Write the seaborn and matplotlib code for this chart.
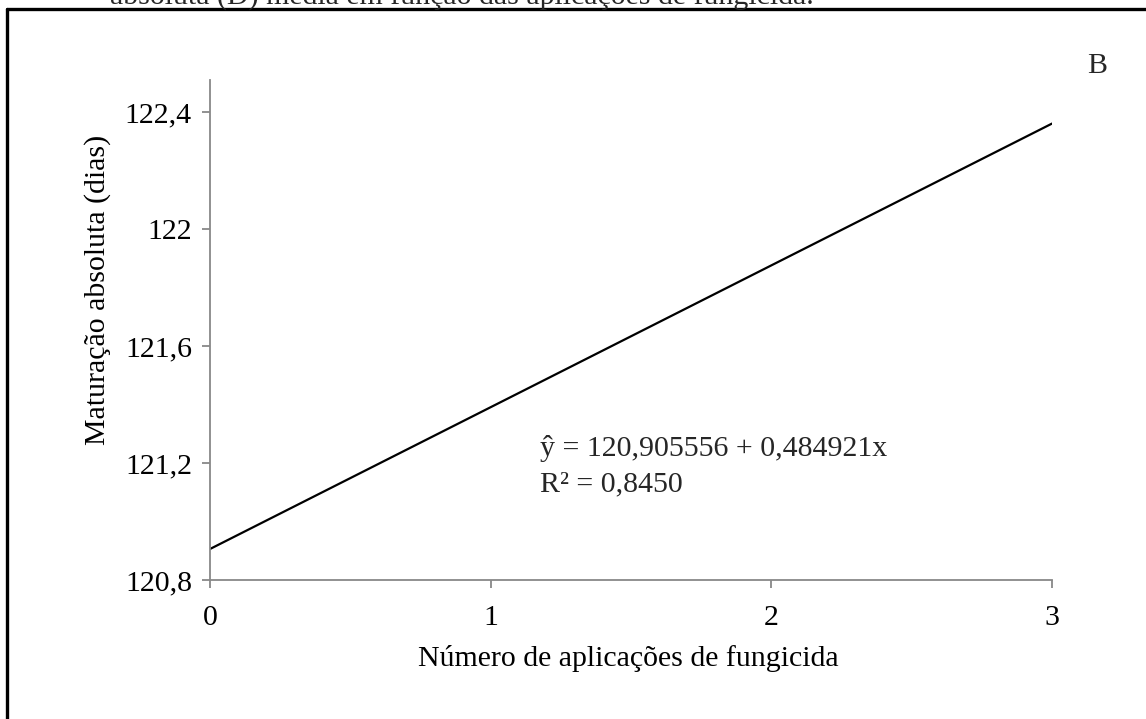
import matplotlib
matplotlib.use("Agg")
import matplotlib.pyplot as plt
import seaborn as sns
import pandas as pd
from matplotlib.lines import Line2D

# Data
aplicacoes = [0, 1, 2, 3]
maturacao = [120.906, 121.391, 121.876, 122.361]
x_ticks = [0, 1, 2, 3]
y_ticks = [120.8, 121.2, 121.6, 122.0, 122.4]
y_tick_labels = ["120,8", "121,2", "121,6", "122", "122,4"]
equacao = "ŷ = 120,905556 + 0,484921x"
r2_text = "R² = 0,8450"
painel = "B"
titulo_cortado = "absoluta (D) média em função das aplicações de fungicida."

sns.set_theme(style="white")
plt.rcParams['font.family'] = ['Liberation Serif', 'DejaVu Serif']

FS = 21.5
W, H = 1146, 719

df = pd.DataFrame({"x": aplicacoes, "y": maturacao})

fig = plt.figure(figsize=(W / 100, H / 100), dpi=100)
ax = fig.add_axes([210 / W, 1 - 580 / H, (1052 - 210) / W, (580 - 80) / H])

sns.lineplot(data=df, x="x", y="y", ax=ax, color="black", linewidth=1.6)

ax.set_xlim(0, 3)
ax.set_ylim(120.8, 122.51)
ax.set_xticks(x_ticks)
ax.set_xticklabels([str(t) for t in x_ticks])
ax.set_yticks(y_ticks)
ax.set_yticklabels(y_tick_labels)

for s in ["top", "right"]:
    ax.spines[s].set_visible(False)
for s in ["left", "bottom"]:
    ax.spines[s].set_color("#888888")
    ax.spines[s].set_linewidth(1.3)
ax.tick_params(axis="both", which="major", direction="out", length=6, width=1.3,
               color="#888888", labelsize=FS, labelcolor="black", pad=7,
               bottom=True, left=True)
ax.tick_params(axis="x", pad=12)

ax.set_xlabel("Número de aplicações de fungicida", fontsize=FS, color="black")
ax.set_ylabel("Maturação absoluta (dias)", fontsize=FS, color="black")
ax.xaxis.label.set(va="center", ha="center")
ax.yaxis.label.set(va="center", ha="center")
ax.xaxis.set_label_coords((628 - 210) / 842, (580 - 658) / 500)
ax.yaxis.set_label_coords((98 - 210) / 842, (580 - 290) / 500)

fig.text(540 / W, 1 - 449 / H, equacao, fontsize=FS, va="center", ha="left")
fig.text(540 / W, 1 - 484 / H, r2_text, fontsize=FS, va="center", ha="left")
fig.text(1097 / W, 1 - 66 / H, painel, fontsize=FS, va="center", ha="center")

# caption cut off at the top edge
fig.text(110 / W, 1 - 4 / H, titulo_cortado, fontsize=FS, va="baseline", ha="left")

# Border lines (left and top)
fig.add_artist(Line2D([7 / W, 7 / W], [0, 1 - 9 / H], transform=fig.transFigure,
                      color="black", linewidth=2.4))
fig.add_artist(Line2D([7 / W, 1], [1 - 9 / H, 1 - 9 / H], transform=fig.transFigure,
                      color="black", linewidth=2.4))

fig.savefig("out.png", dpi=100)
